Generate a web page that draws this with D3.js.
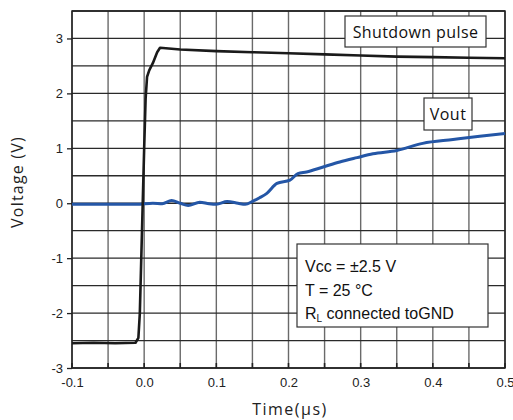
<!DOCTYPE html>
<html><head><meta charset="utf-8">
<script src="https://cdn.jsdelivr.net/npm/d3@7"></script>
<style>body{margin:0;background:#fff;}svg{display:block;}</style>
</head><body>
<svg id="c" width="513" height="420"></svg>
<script>
const pulseT = [-0.1,-0.07,-0.04,-0.012,-0.008,-0.006,-0.004,-0.002,0.0,0.002,0.004,0.007,0.012,0.018,0.022,0.05,0.1,0.15,0.2,0.25,0.3,0.35,0.4,0.45,0.5];
const pulseV = [-2.55,-2.54,-2.55,-2.54,-2.45,-2.0,-1.0,0.0,1.0,1.9,2.3,2.42,2.55,2.75,2.83,2.8,2.77,2.75,2.73,2.71,2.69,2.67,2.66,2.65,2.64];
const voutT = [-0.1,-0.05,-0.01,0.012,0.025,0.038,0.05,0.061,0.077,0.09,0.1,0.115,0.13,0.14,0.151,0.16,0.17,0.184,0.202,0.213,0.225,0.248,0.271,0.295,0.317,0.35,0.386,0.428,0.465,0.5];
const voutV = [-0.02,-0.02,-0.02,0.0,-0.01,0.05,0.0,-0.04,0.02,-0.01,-0.02,0.03,0.0,-0.02,0.04,0.1,0.18,0.36,0.42,0.54,0.57,0.66,0.75,0.83,0.9,0.96,1.09,1.16,1.22,1.27];
const xTicks = [-0.1,0.0,0.1,0.2,0.3,0.4,0.5];
const xTickLabels = ["-0.1","0.0","0.1","0.2","0.3","0.4","0.5"];
const yTicks = [-3,-2,-1,0,1,2,3];
const yTickLabels = ["-3","-2","-1","0","1","2","3"];
const xGrid = d3.range(-0.1,0.5001,0.05);
const yGrid = d3.range(-3,3.5001,0.5);

const svg = d3.select("#c");
const L=72, R=505, T=11, B=368;
const x = d3.scaleLinear().domain([-0.1,0.5]).range([L,R]);
const y = d3.scaleLinear().domain([-3,3.5]).range([B,T]);

const g = svg.append("g");
g.selectAll(".vg").data(xGrid).enter().append("line")
  .attr("x1",d=>x(d)).attr("x2",d=>x(d)).attr("y1",T).attr("y2",B)
  .attr("stroke","#6a6a6a").attr("stroke-width",1.4);
g.selectAll(".hg").data(yGrid).enter().append("line")
  .attr("x1",L).attr("x2",R).attr("y1",d=>y(d)).attr("y2",d=>y(d))
  .attr("stroke","#2a2a2a").attr("stroke-width",1.3);
g.append("rect").attr("x",L).attr("y",T).attr("width",R-L).attr("height",B-T)
  .attr("fill","none").attr("stroke","#222").attr("stroke-width",1.5);

const xa = d3.axisBottom(x).tickValues(xTicks).tickFormat((d,i)=>xTickLabels[i]).tickSize(0).tickPadding(10);
const ya = d3.axisLeft(y).tickValues(yTicks).tickFormat((d,i)=>yTickLabels[i]).tickSize(5).tickPadding(4);
const gx = svg.append("g").attr("transform",`translate(0,${B})`).call(xa);
const gy = svg.append("g").attr("transform",`translate(${L},0)`).call(ya);
[gx,gy].forEach(a=>{a.select(".domain").remove();
  a.selectAll("text").attr("font-family","Liberation Sans, Arial, sans-serif").attr("font-size",13).attr("fill","#222");
  a.selectAll("line").attr("stroke","#222").attr("stroke-width",1.3);});
svg.append("g").selectAll("line").data(xGrid).enter().append("line")
  .attr("x1",d=>x(d)).attr("x2",d=>x(d)).attr("y1",B).attr("y2",B-5)
  .attr("stroke","#222").attr("stroke-width",1.6);

const line = d3.line().x(d=>x(d[0])).y(d=>y(d[1])).curve(d3.curveMonotoneX);
svg.append("path").datum(voutT.map((t,i)=>[t,voutV[i]])).attr("d",line)
  .attr("fill","none").attr("stroke","#2456a6").attr("stroke-width",3);
svg.append("path").datum(pulseT.map((t,i)=>[t,pulseV[i]])).attr("d",d3.line().x(d=>x(d[0])).y(d=>y(d[1])))
  .attr("fill","none").attr("stroke","#1a1a1a").attr("stroke-width",2.6).attr("stroke-linejoin","round");

const ff = "Open Sans, Noto Sans, sans-serif";
svg.append("text").attr("transform","translate(23,182) rotate(-90)").attr("text-anchor","middle")
  .attr("font-family",ff).attr("font-size",16).attr("letter-spacing",1.2).attr("fill","#222").text("Voltage (V)");
svg.append("text").attr("x",290).attr("y",415).attr("text-anchor","middle")
  .attr("font-family",ff).attr("font-size",16).attr("letter-spacing",1.5).attr("fill","#222").text("Time(μs)");

function box(x0,y0,w,h){svg.append("rect").attr("x",x0).attr("y",y0).attr("width",w).attr("height",h)
  .attr("fill","#fff").attr("stroke","#333").attr("stroke-width",1.2);}
box(345,16,141,31);
svg.append("text").attr("x",415.5).attr("y",38).attr("text-anchor","middle").attr("font-family",ff)
  .attr("font-size",16).attr("letter-spacing",0.4).attr("fill","#111").text("Shutdown pulse");
box(424,98,48,32);
svg.append("text").attr("x",448).attr("y",120).attr("text-anchor","middle").attr("font-family",ff)
  .attr("font-size",16).attr("letter-spacing",0.5).attr("fill","#111").text("Vout");
box(297,244,191,83);
const f2 = "Liberation Sans, Arial, sans-serif";
svg.append("text").attr("x",305).attr("y",272).attr("font-family",f2).attr("font-size",16).attr("fill","#111").text("Vcc = ±2.5 V");
svg.append("text").attr("x",305).attr("y",296).attr("font-family",f2).attr("font-size",16).attr("fill","#111").text("T = 25 °C");
const t3 = svg.append("text").attr("x",305).attr("y",319).attr("font-family",f2).attr("font-size",16).attr("fill","#111");
t3.append("tspan").text("R");
t3.append("tspan").attr("font-size",10).attr("dy",3).text("L");
t3.append("tspan").attr("dy",-3).text(" connected toGND");
</script></body></html>
